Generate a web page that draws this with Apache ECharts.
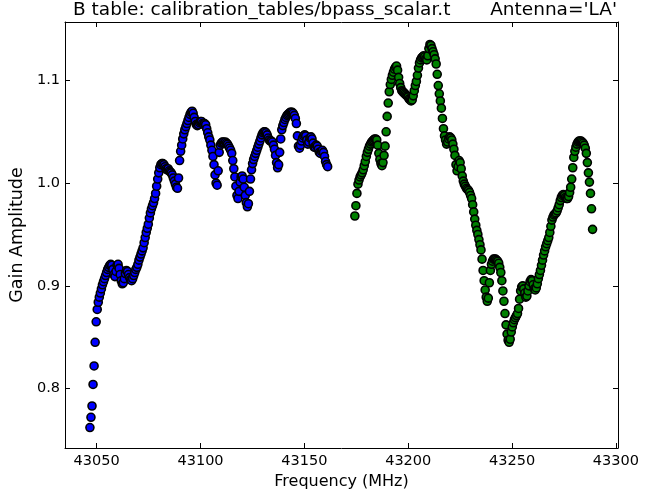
<!DOCTYPE html>
<html>
<head>
<meta charset="utf-8">
<script src="https://cdn.jsdelivr.net/npm/echarts@6/dist/echarts.min.js"></script>
<style>
html,body{margin:0;padding:0;background:#fff;}
#chart{width:659px;height:495px;}
</style>
</head>
<body>
<div id="chart"></div>
<script>
// Channel layout of the two spectral windows (MHz)
const blueStart = 43046.75, greenStart = 43174.3, chanStep = 0.502;

// Gain amplitude per channel, spw 0 (blue)
const gainBlue = [
0.762,0.772,0.783,0.804,0.822,0.845,0.865,0.877,0.884,0.889,
0.893,0.897,0.901,0.904,0.907,0.910,0.913,0.916,0.918,0.920,
0.921,0.920,0.916,0.911,0.909,0.914,0.920,0.921,0.917,0.911,
0.905,0.902,0.903,0.907,0.912,0.915,0.914,0.911,0.908,0.906,
0.905,0.907,0.910,0.913,0.916,0.918,0.921,0.925,0.928,0.931,
0.934,0.937,0.942,0.947,0.952,0.956,0.960,0.966,0.971,0.975,
0.978,0.981,0.985,0.990,0.997,1.004,1.010,1.015,1.018,1.019,
1.019,1.018,1.016,1.014,1.013,1.014,1.012,1.011,1.010,1.008,
1.005,1.002,0.999,0.996,0.995,1.005,1.022,1.031,1.037,1.043,
1.048,1.052,1.055,1.058,1.061,1.064,1.067,1.069,1.070,1.068,
1.064,1.060,1.057,1.056,1.057,1.059,1.060,1.060,1.058,1.057,
1.058,1.057,1.053,1.049,1.045,1.042,1.037,1.032,1.026,1.018,
1.008,1.000,0.998,1.012,1.030,1.037,1.039,1.040,1.040,1.039,
1.040,1.039,1.038,1.036,1.034,1.032,1.029,1.022,1.014,1.006,
0.997,0.988,0.985,0.992,1.001,1.006,1.007,1.004,0.996,0.988,
0.981,0.977,0.980,0.992,1.004,1.013,1.019,1.023,1.026,1.029,
1.032,1.035,1.038,1.041,1.044,1.047,1.049,1.050,1.050,1.049,
1.047,1.044,1.042,1.041,1.041,1.040,1.037,1.033,1.027,1.020,
1.015,1.018,1.030,1.043,1.052,1.056,1.059,1.062,1.064,1.066,
1.067,1.068,1.069,1.069,1.069,1.068,1.066,1.063,1.058,1.046,
1.036,1.034,1.037,1.041,1.044,1.046,1.047,1.046,1.042,1.038,
1.040,1.044,1.045,1.043,1.039,1.035,1.035,1.037,1.036,1.033,
1.030,1.029,1.031,1.032,1.030,1.026,1.021,1.018,1.016
];

// Gain amplitude per channel, spw 1 (green)
const gainGreen = [
0.968,0.978,0.990,0.999,1.003,1.006,1.008,1.010,1.013,1.017,
1.021,1.026,1.030,1.033,1.036,1.038,1.040,1.041,1.042,1.043,
1.043,1.042,1.037,1.029,1.023,1.019,1.017,1.020,1.027,1.036,
1.050,1.065,1.078,1.089,1.096,1.101,1.105,1.108,1.111,1.113,
1.114,1.110,1.103,1.097,1.093,1.090,1.089,1.088,1.087,1.086,
1.085,1.084,1.082,1.081,1.080,1.081,1.085,1.090,1.095,1.099,
1.105,1.112,1.117,1.120,1.122,1.123,1.124,1.123,1.121,1.120,
1.124,1.131,1.135,1.134,1.131,1.128,1.125,1.121,1.116,1.106,
1.095,1.087,1.080,1.073,1.063,1.053,1.046,1.042,1.038,1.040,
1.043,1.045,1.044,1.042,1.038,1.033,1.027,1.018,1.012,1.016,
1.022,1.020,1.014,1.007,1.002,0.999,0.997,0.995,0.994,0.993,
0.991,0.988,0.985,0.979,0.972,0.965,0.959,0.954,0.950,0.945,
0.940,0.935,0.926,0.915,0.905,0.896,0.889,0.885,0.888,0.903,
0.915,0.921,0.924,0.926,0.926,0.926,0.925,0.924,0.922,0.918,
0.913,0.905,0.895,0.885,0.873,0.862,0.853,0.847,0.845,0.848,
0.855,0.860,0.864,0.867,0.869,0.871,0.873,0.878,0.887,0.895,
0.899,0.900,0.897,0.893,0.889,0.890,0.895,0.900,0.904,0.906,
0.905,0.901,0.897,0.896,0.898,0.902,0.907,0.911,0.915,0.920,
0.925,0.930,0.934,0.938,0.941,0.944,0.947,0.952,0.958,0.964,
0.967,0.969,0.970,0.971,0.973,0.976,0.979,0.983,0.986,0.988,
0.989,0.988,0.986,0.985,0.985,0.987,0.991,0.996,1.004,1.015,
1.025,1.031,1.035,1.038,1.040,1.041,1.041,1.041,1.040,1.039,
1.037,1.034,1.029,1.020,1.010,1.001,0.990,0.975,0.955
];

const xTicks = [43050, 43100, 43150, 43200, 43250, 43300];
const yTicks = [0.8, 0.9, 1.0, 1.1];
const titleLeft = "B table: calibration_tables/bpass_scalar.t";
const titleRight = "Antenna='LA'";
const xName = "Frequency (MHz)";
const yName = "Gain Amplitude";

function pairs(start, vals) {
  return vals.map((v, i) => [start + i * chanStep, v]);
}

const FONT = "'DejaVu Sans', sans-serif";
const xMin = 43034.75, xMax = 43301.0, yMin = 0.7421, yMax = 1.1569;

function xAxisDef(pos, showLabel) {
  return {
    type: 'value', position: pos, min: xMin, max: xMax,
    axisLine: {show: true, onZero: false, lineStyle: {color: '#000', width: 1}},
    axisTick: {show: true, inside: true, length: 5, customValues: xTicks, lineStyle: {color: '#000'}},
    axisLabel: {show: showLabel, customValues: xTicks, color: '#000', fontSize: 14.5, fontFamily: FONT, margin: 6,
      formatter: v => String(v)},
    splitLine: {show: false},
    name: showLabel ? xName : '', nameLocation: 'middle', nameGap: 26,
    nameTextStyle: {color: '#000', fontSize: 16, fontFamily: FONT}
  };
}
function yAxisDef(pos, showLabel) {
  return {
    type: 'value', position: pos, min: yMin, max: yMax,
    axisLine: {show: true, onZero: false, lineStyle: {color: '#000', width: 1}},
    axisTick: {show: true, inside: true, length: 5, customValues: yTicks, lineStyle: {color: '#000'}},
    axisLabel: {show: showLabel, customValues: yTicks, color: '#000', fontSize: 14.5, fontFamily: FONT, margin: 5,
      formatter: v => v.toFixed(1)},
    splitLine: {show: false},
    name: showLabel ? yName : '', nameLocation: 'middle', nameGap: 24, nameRotate: 90,
    nameTextStyle: {color: '#000', fontSize: 17.5, fontFamily: FONT}
  };
}

const chart = echarts.init(document.getElementById('chart'), null, {renderer: 'canvas'});
chart.setOption({
  animation: false,
  backgroundColor: '#fff',
  title: [
    {text: titleLeft, left: 73, top: 1, padding: 0,
     textStyle: {color: '#000', fontSize: 18.5, fontWeight: 'normal', fontFamily: FONT}},
    {text: titleRight, right: 42, top: 1, padding: 0,
     textStyle: {color: '#000', fontSize: 18.5, fontWeight: 'normal', fontFamily: FONT}}
  ],
  grid: {left: 65, right: 41, top: 22, bottom: 42, containLabel: false},
  xAxis: [xAxisDef('bottom', true), xAxisDef('top', false)],
  yAxis: [yAxisDef('left', true), yAxisDef('right', false)],
  series: [
    {type: 'scatter', xAxisIndex: 0, yAxisIndex: 0, symbol: 'circle', symbolSize: 8,
     itemStyle: {color: '#0000ff', borderColor: '#000', borderWidth: 1.6, opacity: 1},
     data: pairs(blueStart, gainBlue)},
    {type: 'scatter', xAxisIndex: 0, yAxisIndex: 0, symbol: 'circle', symbolSize: 8,
     itemStyle: {color: '#008000', borderColor: '#000', borderWidth: 1.6, opacity: 1},
     data: pairs(greenStart, gainGreen)}
  ]
});
</script>
</body>
</html>
